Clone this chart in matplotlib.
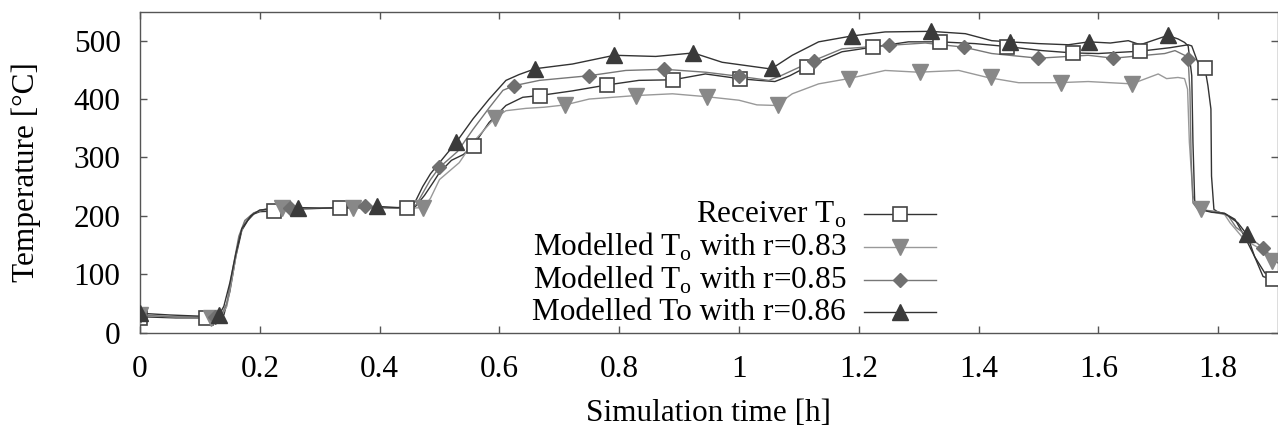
import matplotlib
matplotlib.use('Agg')
import matplotlib.pyplot as plt

# Receiver outlet temperature (measured)
rec_t = [0.0, 0.03, 0.06, 0.09, 0.111, 0.13, 0.14, 0.15, 0.16, 0.17, 0.18, 0.19, 0.2,
         0.223, 0.25, 0.28, 0.31, 0.334, 0.37, 0.4, 0.43, 0.446, 0.46, 0.475, 0.49, 0.5,
         0.52, 0.54, 0.556, 0.583, 0.611, 0.639, 0.667, 0.722, 0.779, 0.833, 0.89, 0.944,
         1.0, 1.033, 1.06, 1.085, 1.113, 1.172, 1.224, 1.283, 1.336, 1.394, 1.447, 1.506,
         1.558, 1.6, 1.67, 1.72, 1.75, 1.756, 1.766, 1.778, 1.783, 1.788, 1.789, 1.793,
         1.8, 1.811, 1.828, 1.844, 1.861, 1.875, 1.883, 1.9]
rec_T = [27, 26, 25, 25, 25, 26, 30, 70, 130, 175, 192, 203, 207,
         208, 211, 212, 213, 214, 213, 214, 213, 214, 216, 235, 258, 274,
         295, 305, 320, 360, 389, 403, 406, 414, 424, 432, 433, 443,
         435, 432, 430, 440, 455, 481, 489, 498, 498, 495, 490, 483,
         479, 478, 482, 488, 493, 491, 463, 453, 423, 383, 268, 211,
         206, 204, 194, 165, 130, 96, 93, 93]
rec_mt = [0.0, 0.111, 0.223, 0.334, 0.445, 0.557, 0.668, 0.779, 0.89, 1.002, 1.113,
          1.224, 1.336, 1.447, 1.558, 1.67, 1.778, 1.892]
rec_mT = [25, 25, 208, 214, 214, 320, 406, 424, 433, 435, 455,
          489, 498, 490, 479, 482, 453, 91]

# Modelled, r=0.83
m83_t = [0.0, 0.05, 0.1, 0.118, 0.135, 0.145, 0.155, 0.165, 0.175, 0.19, 0.21, 0.237,
         0.27, 0.3, 0.355, 0.4, 0.45, 0.473, 0.485, 0.5, 0.533, 0.556, 0.592, 0.611,
         0.644, 0.675, 0.71, 0.75, 0.828, 0.889, 0.946, 1.0, 1.03, 1.062, 1.089, 1.133,
         1.183, 1.244, 1.3, 1.367, 1.415, 1.467, 1.533, 1.583, 1.656, 1.7, 1.714, 1.733,
         1.744, 1.749, 1.752, 1.758, 1.766, 1.789, 1.811, 1.82, 1.844, 1.871, 1.886, 1.9]
m83_T = [30, 27, 26, 25, 27, 45, 100, 160, 190, 205, 212, 213,
         212, 213, 213, 214, 213, 214, 230, 262, 291, 326, 367, 380,
         384, 386, 390, 400, 406, 409, 404, 398, 390, 389, 409, 426,
         435, 449, 446, 449, 437, 428, 428, 430, 426, 443, 435, 437,
         435, 417, 326, 234, 212, 207, 202, 188, 159, 143, 125, 120]
m83_mt = [0.0, 0.118, 0.237, 0.355, 0.473, 0.592, 0.71, 0.828, 0.946, 1.065, 1.183,
          1.302, 1.42, 1.538, 1.656, 1.772, 1.89]
m83_mT = [30, 25, 213, 213, 214, 367, 390, 406, 404, 389, 435,
          446, 437, 428, 426, 211, 123]

# Modelled, r=0.85
m85_t = [0.0, 0.05, 0.1, 0.125, 0.135, 0.145, 0.155, 0.165, 0.175, 0.19, 0.21, 0.25,
         0.3, 0.375, 0.42, 0.455, 0.462, 0.47, 0.485, 0.5, 0.53, 0.556, 0.583, 0.606,
         0.625, 0.667, 0.75, 0.811, 0.875, 0.944, 1.0, 1.05, 1.07, 1.125, 1.172, 1.25,
         1.311, 1.375, 1.422, 1.5, 1.583, 1.625, 1.711, 1.728, 1.744, 1.75, 1.753, 1.755,
         1.758, 1.766, 1.8, 1.817, 1.83, 1.85, 1.875, 1.9]
m85_T = [30, 27, 26, 27, 28, 50, 110, 165, 192, 205, 211, 214,
         213, 216, 214, 214, 220, 235, 262, 283, 310, 348, 385, 415,
         423, 432, 440, 449, 451, 446, 439, 432, 440, 466, 486, 492,
         496, 489, 478, 470, 475, 470, 478, 483, 475, 468, 412, 297,
         222, 211, 207, 200, 180, 165, 145, 119]
m85_mt = [0.0, 0.125, 0.25, 0.375, 0.5, 0.625, 0.75, 0.875, 1.0, 1.125, 1.25, 1.375,
          1.5, 1.625, 1.75, 1.875]
m85_mT = [30, 27, 214, 216, 283, 423, 440, 451, 439, 466, 492, 489,
          470, 470, 468, 145]

# Modelled, r=0.86
m86_t = [0.0, 0.05, 0.1, 0.132, 0.14, 0.15, 0.16, 0.17, 0.185, 0.2, 0.266, 0.3, 0.35,
         0.396, 0.43, 0.452, 0.46, 0.472, 0.485, 0.5, 0.528, 0.556, 0.583, 0.611, 0.633,
         0.66, 0.722, 0.792, 0.861, 0.924, 0.972, 1.05, 1.056, 1.089, 1.133, 1.188, 1.244,
         1.32, 1.378, 1.422, 1.452, 1.5, 1.55, 1.584, 1.62, 1.65, 1.67, 1.69, 1.716,
         1.733, 1.744, 1.75, 1.756, 1.758, 1.761, 1.769, 1.789, 1.811, 1.833, 1.848,
         1.861, 1.878, 1.9]
m86_T = [33, 30, 28, 30, 45, 85, 135, 178, 200, 210, 214, 213, 214,
         216, 214, 215, 225, 250, 272, 291, 326, 366, 400, 432, 442,
         452, 460, 475, 473, 479, 463, 452, 453, 475, 498, 508, 515,
         516, 512, 500, 498, 495, 493, 498, 496, 500, 493, 500, 509,
         503, 497, 491, 440, 326, 222, 211, 206, 204, 188, 168,
         130, 102, 99]
m86_mt = [0.0, 0.132, 0.264, 0.396, 0.528, 0.66, 0.792, 0.924, 1.056, 1.188, 1.32,
          1.452, 1.584, 1.716, 1.848]
m86_mT = [33, 30, 214, 216, 326, 452, 475, 479, 453, 508, 516,
          498, 498, 509, 168]

labels = [r'Receiver T$_\mathrm{o}$',
          r'Modelled T$_\mathrm{o}$ with r=0.83',
          r'Modelled T$_\mathrm{o}$ with r=0.85',
          'Modelled To with r=0.86']

plt.rcParams['font.family'] = ['Liberation Serif', 'DejaVu Serif']
plt.rcParams['mathtext.fontset'] = 'custom'
plt.rcParams['mathtext.rm'] = 'Liberation Serif'

W, H = 1278, 428
fig = plt.figure(figsize=(W / 100, H / 100), dpi=100)
ax_l, ax_r, ax_t, ax_b = 140, 1278, 11.5, 332.5
ax = fig.add_axes([ax_l / W, 1 - ax_b / H, (ax_r - ax_l) / W, (ax_b - ax_t) / H])

series = [
    (rec_t, rec_T, rec_mt, rec_mT, '#333333', dict(marker='s', ms=10, mfc='white', mec='#444444', mew=1.2)),
    (m83_t, m83_T, m83_mt, m83_mT, '#999999', dict(marker='v', ms=11, mfc='#888888', mec='#888888')),
    (m85_t, m85_T, m85_mt, m85_mT, '#777777', dict(marker='D', ms=7.5, mfc='#707070', mec='#707070')),
    (m86_t, m86_T, m86_mt, m86_mT, '#333333', dict(marker='^', ms=11, mfc='#3a3a3a', mec='#3a3a3a')),
]

fs = 22.5

# legend laid out by hand (gnuplot style: right-aligned text, sample to the right)
def to_ax(px, py):
    return (px - ax_l) / (ax_r - ax_l), (ax_b - py) / (ax_b - ax_t)

leg_rows = [214, 247, 280, 312]
for (t, T, mt, mT, col, mk), lab, row in zip(series, labels, leg_rows):
    ax.plot(t, T, color=col, lw=1.0, zorder=2)
    ax.plot(mt, mT, ls='none', zorder=3, **mk)
    x0, y = to_ax(864, row)
    x1, _ = to_ax(936, row)
    xm, _ = to_ax(900, row)
    ax.plot([x0, x1], [y, y], color=col, lw=1.0, transform=ax.transAxes, clip_on=False)
    ax.plot([xm], [y], ls='none', transform=ax.transAxes, clip_on=False, **mk)
    xt, yt = to_ax(846, row + 8.5)
    ax.text(xt, yt, lab, transform=ax.transAxes, ha='right', va='baseline', fontsize=fs)

ax.set_xlim(0, 1.9)
ax.set_ylim(0, 550)
ax.set_xticks([0, 0.2, 0.4, 0.6, 0.8, 1.0, 1.2, 1.4, 1.6, 1.8])
ax.set_xticklabels(['0', '0.2', '0.4', '0.6', '0.8', '1', '1.2', '1.4', '1.6', '1.8'])
ax.set_yticks([0, 100, 200, 300, 400, 500])

ax.tick_params(axis='x', direction='in', length=5, width=1, color='#555555',
               top=True, labelsize=fs, pad=16)
ax.tick_params(axis='y', direction='in', length=5, width=1, color='#555555',
               right=True, labelsize=fs, pad=14)
for spine in ax.spines.values():
    spine.set_color('#555555')
    spine.set_linewidth(1.0)

ax.set_xlabel('Simulation time [h]', fontsize=fs, va='center')
ax.xaxis.set_label_coords(0.5, -0.253)
ax.set_ylabel('Temperature [°C]', fontsize=fs, va='center')
ax.yaxis.set_label_coords(-0.1, 0.5)

fig.savefig('out.png', dpi=100)
